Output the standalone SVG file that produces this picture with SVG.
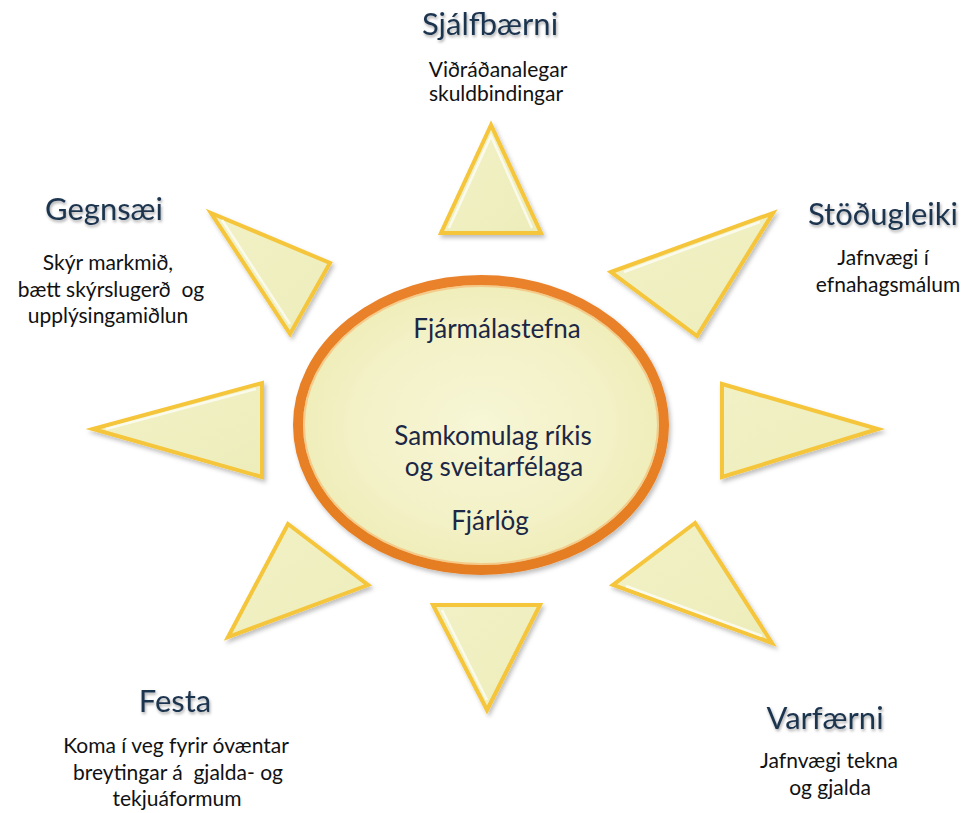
<svg xmlns="http://www.w3.org/2000/svg" width="961" height="813" viewBox="0 0 961 813">
<defs>
<style>
.tri{fill:url(#triFill);stroke:#F5C53A;stroke-width:4;stroke-linejoin:miter;filter:url(#shadow)}
.hl{fill:none;stroke:#FFFFFF;stroke-width:2.5;opacity:0.7;stroke-linejoin:miter}
.head{font-family:Lato,"Open Sans",sans-serif;font-size:31px;fill:#1E344F;text-anchor:middle;filter:url(#tshadow)}
.body{font-family:Lato,"Open Sans",sans-serif;font-size:21px;fill:#111111;text-anchor:middle}
.ctr{font-family:Lato,"Open Sans",sans-serif;font-size:26px;fill:#1B2745;text-anchor:middle}
</style>
<linearGradient id="triFill" x1="0" y1="0" x2="1" y2="1">
<stop offset="0" stop-color="#F1F1C6"/>
<stop offset="1" stop-color="#EDEDBB"/>
</linearGradient>
<radialGradient id="ellFill" cx="0.5" cy="0.5" r="0.5">
<stop offset="0" stop-color="#F7F6D6"/>
<stop offset="0.7" stop-color="#F3F1C6"/>
<stop offset="1" stop-color="#EFEDB8"/>
</radialGradient>
<linearGradient id="ring" x1="0" y1="0" x2="0" y2="1">
<stop offset="0" stop-color="#E9822A"/>
<stop offset="1" stop-color="#E57E22"/>
</linearGradient>
<filter id="shadow" x="-20%" y="-20%" width="140%" height="140%">
<feDropShadow dx="2" dy="3" stdDeviation="2" flood-color="#000" flood-opacity="0.25"/>
</filter>
<filter id="tshadow" x="-10%" y="-30%" width="120%" height="160%">
<feDropShadow dx="1" dy="2" stdDeviation="1.5" flood-color="#000" flood-opacity="0.35"/>
</filter>
</defs>
<rect width="961" height="813" fill="#FFFFFF"/>

<g id="center">
<ellipse cx="481" cy="425" rx="183" ry="145" fill="url(#ellFill)" stroke="url(#ring)" stroke-width="10" filter="url(#shadow)"/>
<ellipse cx="481" cy="425" rx="177" ry="139" fill="none" stroke="#F6B46A" stroke-width="2" opacity="0.6"/>
<text class="ctr" x="497" y="338">Fjármálastefna</text>
<text class="ctr" x="493" y="445">Samkomulag ríkis</text>
<text class="ctr" x="494" y="476">og sveitarfélaga</text>
<text class="ctr" x="490" y="530">Fjárlög</text>
</g>

<g id="sjalfbaerni">
<polygon class="tri" points="491,125 441,233 541,233"/>
<polyline class="hl" points="449,228 491,136 532,228"/>
<text class="head" x="490" y="35">Sjálfbærni</text>
<text class="body" x="498" y="77">Viðráðanalegar</text>
<text class="body" x="496" y="101">skuldbindingar</text>
</g>

<g id="gegnsaei">
<polygon class="tri" points="211,213 330,263 290,334"/>
<polyline class="hl" points="222,220 290,324"/>
<text class="head" x="104" y="220">Gegnsæi</text>
<text class="body" x="108" y="270">Skýr markmið,</text>
<text class="body" x="111" y="297">bætt skýrslugerð&#160; og</text>
<text class="body" x="108" y="323">upplýsingamiðlun</text>
</g>

<g id="stodugleiki">
<polygon class="tri" points="611,272 773,213 697,336"/>
<polyline class="hl" points="624,272 760,222"/>
<text class="head" x="883" y="225">Stöðugleiki</text>
<text class="body" x="883" y="265">Jafnvægi í</text>
<text class="body" x="888" y="292">efnahagsmálum</text>
</g>

<g id="vinstri">
<polygon class="tri" points="93,429 262,383 262,477"/>
<polyline class="hl" points="106,429 256,389"/>
</g>

<g id="haegri">
<polygon class="tri" points="722,384 878,429 722,477"/>
</g>

<g id="festa">
<polygon class="tri" points="288,524 368,585 228,637"/>
<text class="head" x="175" y="712">Festa</text>
<text class="body" x="176" y="753">Koma í veg fyrir óvæntar</text>
<text class="body" x="178" y="780">breytingar á&#160; gjalda- og</text>
<text class="body" x="177" y="806">tekjuáformum</text>
</g>

<g id="varfaerni">
<polygon class="tri" points="695,523 613,585 772,643"/>
<polyline class="hl" points="626,586 762,636"/>
<text class="head" x="825" y="729">Varfærni</text>
<text class="body" x="829" y="768">Jafnvægi tekna</text>
<text class="body" x="830" y="795">og gjalda</text>
</g>

<g id="nidri">
<polygon class="tri" points="433,605 540,605 487,710"/>
<polyline class="hl" points="442,610 487,700"/>
</g>

<g id="connectors"/>
</svg>
